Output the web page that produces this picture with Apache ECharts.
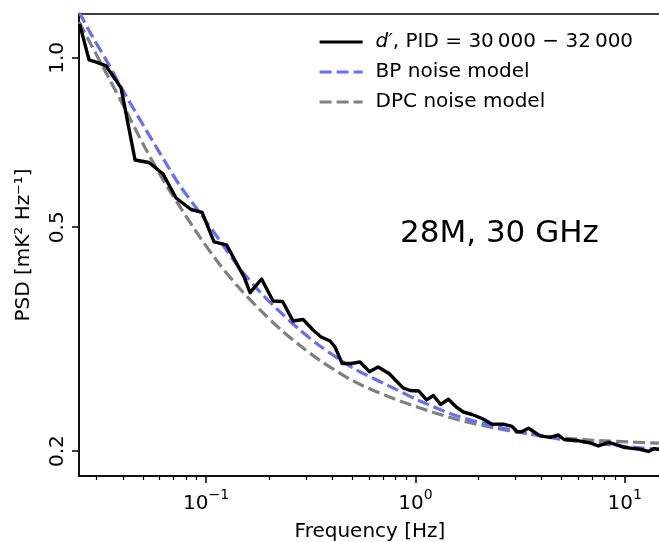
<!DOCTYPE html>
<html>
<head>
<meta charset="utf-8">
<script src="https://cdn.jsdelivr.net/npm/echarts@6/dist/echarts.min.js"></script>
<style>
html,body{margin:0;padding:0;background:#fff;}
#c{width:659px;height:542px;}
</style>
</head>
<body>
<div id="c"></div>
<script>
// d' PSD, PID 30000-32000 (frequency in Hz, PSD in mK^2 Hz^-1)
const freqData = [0.02487,0.02761,0.03015,0.03328,0.03756,0.03926,0.04579,0.05342,0.06232,0.07191,0.08479,0.09570,0.1092,0.1253,0.1519,0.1623,0.1842,0.2090,0.2321,0.2604,0.2907,0.3246,0.3544,0.3913,0.4134,0.4465,0.4928,0.5444,0.6028,0.6634,0.7485,0.8734,0.9434,1.036,1.131,1.219,1.320,1.438,1.577,1.695,1.866,2.083,2.317,2.653,2.897,3.061,3.234,3.475,3.943,4.402,4.823,5.135,5.860,6.835,7.485,8.356,9.199,9.858,10.85,11.85,12.98,13.82,14.60];
const psdData = [1.1495,0.9918,0.9817,0.9678,0.9065,0.8845,0.6585,0.6518,0.6219,0.5636,0.5377,0.5312,0.4708,0.4651,0.4079,0.3825,0.4045,0.3698,0.3690,0.3407,0.3428,0.3283,0.3191,0.3139,0.3062,0.2863,0.2863,0.2880,0.2768,0.2822,0.2748,0.2590,0.2563,0.2558,0.2466,0.2511,0.2420,0.2473,0.2391,0.2347,0.2323,0.2285,0.2234,0.2232,0.2212,0.2165,0.2166,0.2196,0.2128,0.2115,0.2136,0.2097,0.2089,0.2068,0.2042,0.2073,0.2051,0.2032,0.2022,0.2015,0.1997,0.2020,0.2015];
// noise models
const freqModel = [0.02473,0.02853,0.03440,0.03969,0.05167,0.06513,0.07513,0.09361,0.1167,0.1454,0.1811,0.2257,0.2812,0.3505,0.5038,0.7324,1.053,1.582,2.457,3.532,5.077,7.381,10.61,14.60];
const bpModel = [1.2072,1.0943,0.9717,0.8809,0.7447,0.6452,0.5920,0.5301,0.4728,0.4215,0.3836,0.3535,0.3283,0.3075,0.2810,0.2622,0.2455,0.2309,0.2208,0.2145,0.2097,0.2063,0.2034,0.2013];
const dpcModel = [1.1589,1.0482,0.9195,0.8317,0.6873,0.5908,0.5433,0.4796,0.4285,0.3884,0.3564,0.3297,0.3081,0.2898,0.2665,0.2506,0.2386,0.2276,0.2194,0.2145,0.2110,0.2089,0.2076,0.2066];
// axes
const xMin = 0.02472, xMax = 14.91;
const yMin = 0.1806, yMax = 1.197;
const xMajorTicks = [0.1, 1, 10];
const xMinorTicks = [0.03,0.04,0.05,0.06,0.07,0.08,0.09,0.2,0.3,0.4,0.5,0.6,0.7,0.8,0.9,2,3,4,5,6,7,8,9];
const yTicks = [0.2, 0.5, 1.0];
const seriesNames = ['dprime', 'BP noise model', 'DPC noise model'];
const legendLabels = {'dprime': '{i|d′}, PID = 30\u2009000 − 32\u2009000'};
const annotation = '28M, 30 GHz';

const FONT = 'DejaVu Sans';
const pair = (xs, ys) => xs.map((x, i) => [x, ys[i]]);

const chart = echarts.init(document.getElementById('c'), null, {renderer: 'canvas'});
chart.setOption({
  animation: false,
  backgroundColor: '#fff',
  grid: {left: 79, top: 14, right: -2, bottom: 66, outerBoundsMode: 'none', containLabel: false,
         show: true, borderColor: '#000', borderWidth: 1.5, backgroundColor: 'transparent'},
  xAxis: [
    {
      type: 'log', logBase: 10, min: xMin, max: xMax, position: 'bottom',
      axisLine: {show: true, lineStyle: {color: '#000', width: 1.5}},
      axisTick: {show: true, length: 7, lineStyle: {color: '#000', width: 1.5}, customValues: xMajorTicks},
      axisLabel: {
        show: true, margin: 12, customValues: xMajorTicks,
        formatter: function (v) {
          const e = Math.round(Math.log10(v));
          return '{b|10}{s|' + (e < 0 ? '−' + (-e) : String(e)) + '}';
        },
        rich: {
          b: {fontSize: 20, fontFamily: FONT, color: '#000', lineHeight: 26, verticalAlign: 'bottom'},
          s: {fontSize: 14, fontFamily: FONT, color: '#000', lineHeight: 14, verticalAlign: 'top'}
        }
      },
      splitLine: {show: false},
      name: 'Frequency [Hz]', nameLocation: 'middle', nameGap: 46,
      nameTextStyle: {fontSize: 20, fontFamily: FONT, color: '#000'}
    },
    {
      type: 'log', logBase: 10, min: xMin, max: xMax, position: 'top', offset: -462,
      axisLine: {show: false},
      axisTick: {show: true, inside: true, length: 4, lineStyle: {color: '#000', width: 1.2}, customValues: xMinorTicks},
      axisLabel: {show: false},
      splitLine: {show: false}
    }
  ],
  yAxis: [{
    type: 'log', logBase: 10, min: yMin, max: yMax,
    axisLine: {show: true, lineStyle: {color: '#000', width: 1.5}},
    axisTick: {show: true, length: 7, lineStyle: {color: '#000', width: 1.5}, customValues: yTicks},
    axisLabel: {
      show: true, rotate: 90, margin: 11, customValues: yTicks,
      formatter: function (v) { return v.toFixed(1); },
      fontSize: 20, fontFamily: FONT, color: '#000'
    },
    splitLine: {show: false},
    name: 'PSD [mK² Hz⁻¹]', nameLocation: 'middle', nameGap: 45,
    nameTextStyle: {fontSize: 20, fontFamily: FONT, color: '#000'}
  }],
  legend: {
    orient: 'vertical', left: 318, top: 32, padding: 0,
    itemWidth: 43, itemHeight: 20, itemGap: 10,
    data: seriesNames,
    itemStyle: {opacity: 0},
    lineStyle: {width: 3.2},
    formatter: function (name) { return legendLabels[name] || name; },
    textStyle: {
      fontSize: 20, fontFamily: FONT, color: '#000', padding: [0, 0, 0, 8],
      rich: {i: {fontSize: 20, fontFamily: FONT, fontStyle: 'italic', color: '#000'}}
    }
  },
  graphic: [{
    type: 'text', left: 400, top: 218,
    style: {text: annotation, font: '31px "DejaVu Sans"', fill: '#000'}
  }],
  series: [
    {
      name: seriesNames[0], type: 'line', data: pair(freqData, psdData),
      showSymbol: false, symbol: 'none', clip: true,
      lineStyle: {color: '#000', width: 3.4, join: 'round'}, itemStyle: {color: '#000'}, z: 3
    },
    {
      name: seriesNames[1], type: 'line', data: pair(freqModel, bpModel), smooth: 0.3,
      showSymbol: false, symbol: 'none', clip: true,
      lineStyle: {color: '#636efa', width: 3.2, type: [12, 5]}, itemStyle: {color: '#636efa'}, z: 2
    },
    {
      name: seriesNames[2], type: 'line', data: pair(freqModel, dpcModel), smooth: 0.3,
      showSymbol: false, symbol: 'none', clip: true,
      lineStyle: {color: '#808080', width: 3.2, type: [12, 5]}, itemStyle: {color: '#808080'}, z: 1
    }
  ]
});
</script>
</body>
</html>
